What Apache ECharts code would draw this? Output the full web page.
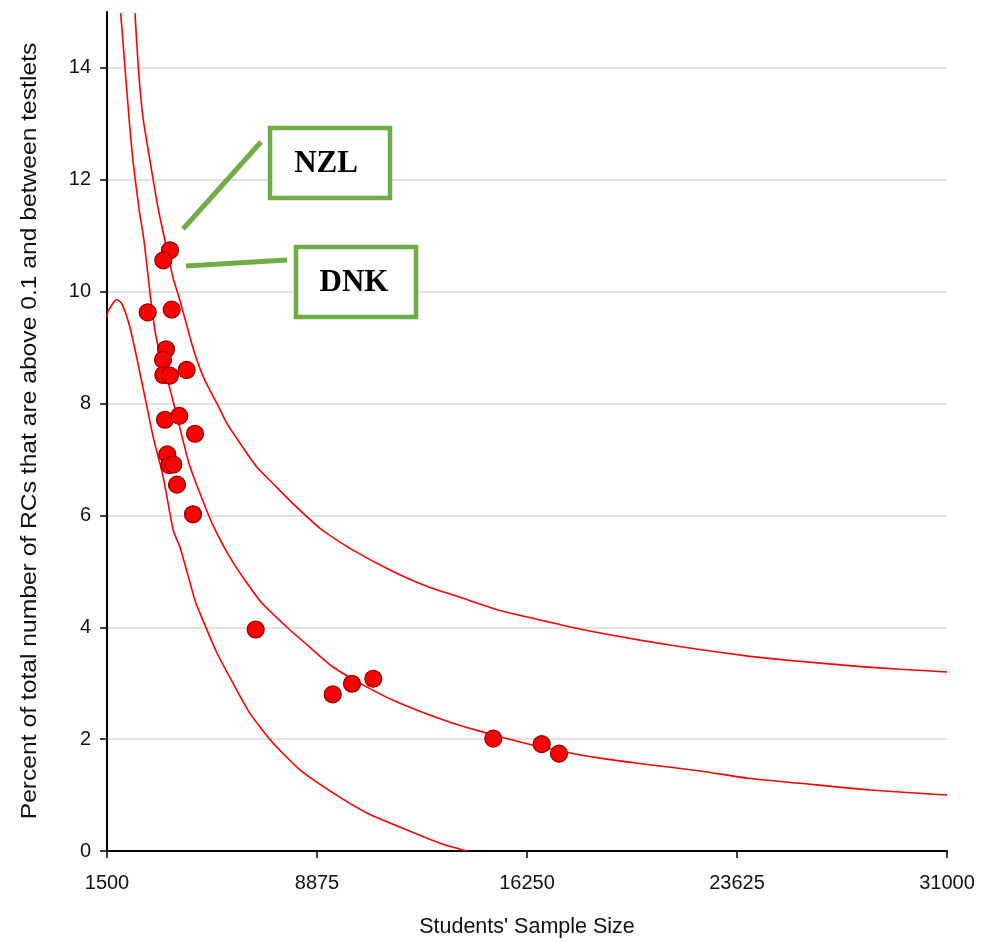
<!DOCTYPE html>
<html>
<head>
<meta charset="utf-8">
<script src="https://cdn.jsdelivr.net/npm/echarts@6/dist/echarts.min.js"></script>
<style>
  html, body { margin: 0; padding: 0; background: #fff; }
  #chart { width: 985px; height: 942px; }
</style>
</head>
<body>
<div id="chart"></div>
<script>
// Country results: students' sample size vs percent of RCs above 0.1
const sampleSize = [3712, 3477, 2929, 3772, 3572, 3467, 3477, 3712, 4296, 3537, 4039, 4590,
                    3617, 3687, 3828, 3958, 4520, 6722, 9426, 10104, 10852, 15066, 16766, 17374];
const percentRC  = [10.74, 10.56, 9.63, 9.68, 8.97, 8.78, 8.51, 8.50, 8.60, 7.71, 7.78, 7.46,
                    7.09, 6.90, 6.91, 6.55, 6.02, 3.96, 2.80, 2.99, 3.08, 2.01, 1.91, 1.74];

// Upper control limit
const upperX = [2483, 2600, 2764, 3010, 3291, 3537, 3818, 4064, 4415, 4661, 4942, 5363, 5714,
                6171, 6768, 7330, 8032, 8981, 10140, 11685, 12844, 14003, 15302, 16707, 18182,
                20219, 22186, 24082, 25417, 27875, 29350, 31000];
const upperY = [14.98, 14.00, 13.11, 12.34, 11.50, 10.91, 10.25, 9.84, 9.18, 8.77, 8.41, 8.00, 7.64,
                7.29, 6.86, 6.57, 6.21, 5.77, 5.38, 4.96, 4.71, 4.52, 4.30, 4.13, 3.96,
                3.77, 3.61, 3.48, 3.41, 3.30, 3.25, 3.20];

// Central line
const middleX = [1981, 2132, 2273, 2413, 2620, 2800, 3010, 3186, 3361, 3607, 3923, 4169, 4380,
                 4766, 5223, 5925, 6908, 7822, 8629, 9437, 10631, 11790, 13546, 14951, 16707,
                 18814, 20114, 22326, 24012, 25838, 28296, 31000];
const middleY = [14.98, 14.00, 13.11, 12.34, 11.50, 10.91, 9.98, 9.30, 8.89, 8.46, 7.84, 7.34, 6.93,
                 6.39, 5.82, 5.16, 4.45, 4.00, 3.64, 3.29, 2.93, 2.64, 2.30, 2.09, 1.86,
                 1.66, 1.57, 1.43, 1.30, 1.21, 1.09, 1.00];

// Lower control limit
const lowerX = [1500, 1546, 1841, 2016, 2308, 2543, 2835, 3126, 3477, 3828, 4064, 4591, 4766,
                5363, 5925, 6522, 7330, 8278, 9437, 10631, 12036, 13195, 14143];
const lowerY = [9.54, 9.66, 9.86, 9.79, 9.36, 8.82, 8.11, 7.39, 6.68, 5.73, 5.43, 4.48, 4.25,
                3.54, 3.00, 2.46, 1.93, 1.45, 1.04, 0.68, 0.375, 0.14, 0.00];

const xTicks = [1500, 8875, 16250, 23625, 31000];
const yTicks = [0, 2, 4, 6, 8, 10, 12, 14];

const zip = (xs, ys) => xs.map((x, i) => [x, ys[i]]);

const chart = echarts.init(document.getElementById('chart'), null, { renderer: 'canvas' });

const axisFont = { fontFamily: 'Liberation Sans', fontSize: 20, color: '#111' };
const green = '#70AD47';
const lineStyle = { color: '#ff0000', width: 1.6 };

chart.setOption({
  animation: false,
  backgroundColor: '#ffffff',
  grid: { left: 107, right: 38, top: 12, bottom: 91, containLabel: false, outerBoundsMode: 'none' },
  xAxis: {
    type: 'value',
    min: 1500,
    max: 31000,
    name: "Students' Sample Size",
    nameLocation: 'middle',
    nameGap: 65,
    nameTextStyle: { fontFamily: 'Liberation Sans', fontSize: 21.5, color: '#111' },
    axisLine: { show: true, onZero: false, lineStyle: { color: '#000', width: 2 } },
    axisTick: { show: true, length: 7, lineStyle: { color: '#000', width: 1.5 }, customValues: xTicks },
    axisLabel: { ...axisFont, margin: 22, customValues: xTicks, formatter: (v) => String(v) },
    splitLine: { show: false }
  },
  yAxis: {
    type: 'value',
    min: 0,
    max: 15,
    axisLine: { show: true, onZero: false, lineStyle: { color: '#000', width: 2 } },
    axisTick: { show: true, length: 7, lineStyle: { color: '#000', width: 1.5 }, customValues: yTicks },
    axisLabel: { ...axisFont, margin: 16, customValues: yTicks },
    splitLine: { show: true, lineStyle: { color: '#d9d9d9', width: 1.5 } }
  },
  series: [
    {
      type: 'line', data: zip(upperX, upperY), showSymbol: false, symbol: 'none',
      smooth: 0.2, lineStyle, z: 2, silent: true
    },
    {
      type: 'line', data: zip(middleX, middleY), showSymbol: false, symbol: 'none',
      smooth: 0.2, lineStyle, z: 2, silent: true
    },
    {
      type: 'line', data: zip(lowerX, lowerY), showSymbol: false, symbol: 'none',
      smooth: 0.2, lineStyle, z: 2, silent: true
    },
    {
      type: 'scatter',
      data: zip(sampleSize, percentRC),
      symbol: 'circle',
      symbolSize: 17,
      itemStyle: { color: '#ff0000', borderColor: '#8b0000', borderWidth: 1.2, opacity: 1 },
      z: 5
    }
  ],
  graphic: [
    // vertical axis title, stretched slightly along its length
    { type: 'text', x: 30, y: 431, rotation: Math.PI / 2, scaleX: 1.12,
      style: { text: 'Percent of total number of RCs that are above 0.1 and between testlets',
               font: '22px "Liberation Sans"', fill: '#111',
               textAlign: 'center', textVerticalAlign: 'middle' } },
    // NZL callout
    { type: 'line', shape: { x1: 183, y1: 229, x2: 261, y2: 142 },
      style: { stroke: green, lineWidth: 5 }, z: 10 },
    { type: 'rect', shape: { x: 270, y: 128, width: 120, height: 70 },
      style: { fill: '#fff', stroke: green, lineWidth: 4.5 }, z: 10 },
    { type: 'text', x: 326, y: 164,
      style: { text: 'NZL', font: 'bold 31px "Liberation Serif"', fill: '#000',
               textAlign: 'center', textVerticalAlign: 'middle' }, z: 11 },
    // DNK callout
    { type: 'line', shape: { x1: 186, y1: 266, x2: 287, y2: 260 },
      style: { stroke: green, lineWidth: 5 }, z: 10 },
    { type: 'rect', shape: { x: 296, y: 247, width: 120, height: 70 },
      style: { fill: '#fff', stroke: green, lineWidth: 4.5 }, z: 10 },
    { type: 'text', x: 354, y: 283,
      style: { text: 'DNK', font: 'bold 31px "Liberation Serif"', fill: '#000',
               textAlign: 'center', textVerticalAlign: 'middle' }, z: 11 }
  ]
});
</script>
</body>
</html>
